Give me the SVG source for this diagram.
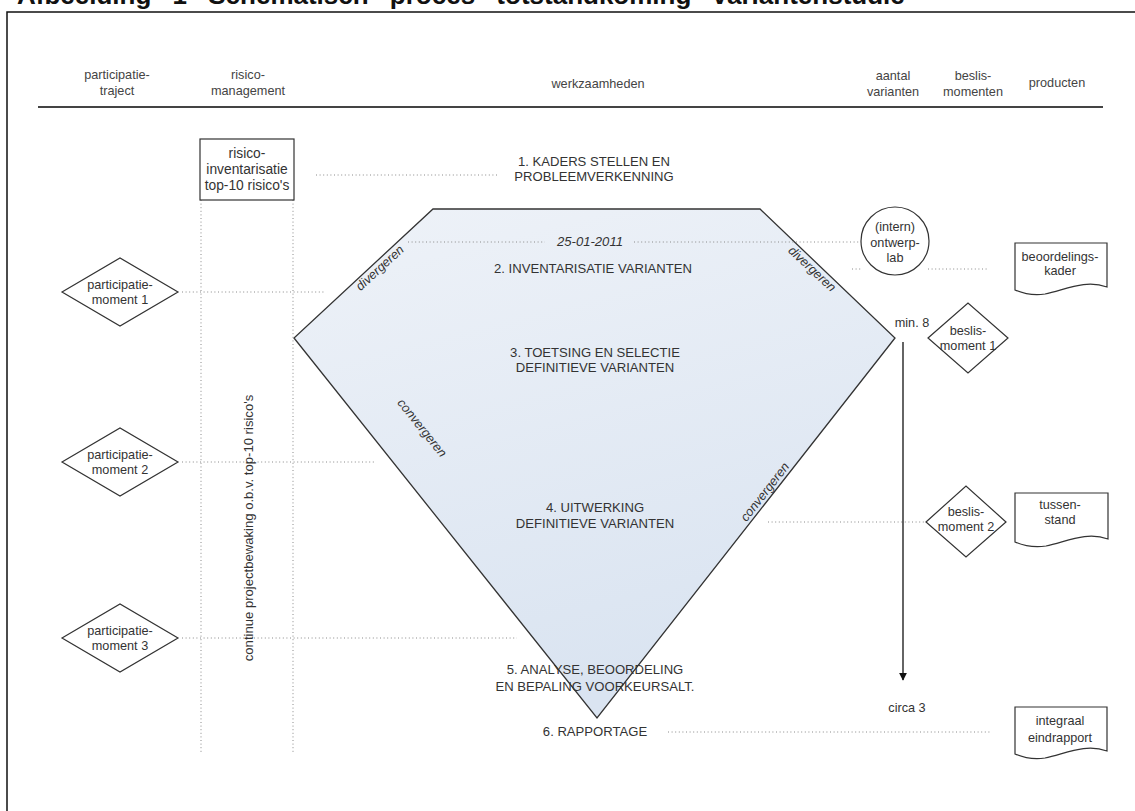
<svg xmlns="http://www.w3.org/2000/svg" width="1135" height="811" viewBox="0 0 1135 811">
<defs>
<style>
.t{font-family:"Liberation Sans",Arial,sans-serif;font-size:12.7px;fill:#333;text-anchor:middle;dominant-baseline:central}
.h{font-family:"Liberation Sans",Arial,sans-serif;font-size:12.7px;fill:#444;text-anchor:middle;dominant-baseline:central}
.w{font-family:"Liberation Sans",Arial,sans-serif;font-size:13.1px;fill:#333;text-anchor:middle;dominant-baseline:central}
.b{font-family:"Liberation Sans",Arial,sans-serif;font-size:13.8px;fill:#333;text-anchor:middle;dominant-baseline:central}
.it{font-style:italic}
.dot{stroke:#8a8a8a;stroke-width:1;stroke-dasharray:1 2.6;fill:none}
.sh{stroke:#333;stroke-width:1.2;fill:#fff}
</style>
<linearGradient id="g" x1="0" y1="0" x2="0.3" y2="1">
<stop offset="0" stop-color="#eef2f8"/>
<stop offset="1" stop-color="#dae4f1"/>
</linearGradient>
<marker id="ah" viewBox="0 0 10 10" refX="9" refY="5" markerWidth="8" markerHeight="8" orient="auto" markerUnits="userSpaceOnUse">
<path d="M0,0 L10,5 L0,10 Z" fill="#111"/>
</marker>
</defs>
<rect width="1135" height="811" fill="#fff"/>
<text x="17" y="4" style="font-family:'Liberation Sans',Arial,sans-serif;font-size:26px;font-weight:bold;fill:#111;word-spacing:14px">Afbeelding 1 Schematisch proces totstandkoming variantenstudie</text>
<path d="M7,811 V12 H1135" fill="none" stroke="#111" stroke-width="1.5"/>

<g id="headers">
<text class="h" x="117" y="75">participatie-</text>
<text class="h" x="117" y="91">traject</text>
<text class="h" x="248" y="75">risico-</text>
<text class="h" x="248" y="91">management</text>
<text class="h" x="598" y="84">werkzaamheden</text>
<text class="h" x="893" y="76">aantal</text>
<text class="h" x="893" y="92">varianten</text>
<text class="h" x="973" y="76">beslis-</text>
<text class="h" x="973" y="92">momenten</text>
<text class="h" x="1057" y="83">producten</text>
<line x1="38" y1="107" x2="1103" y2="107" stroke="#444" stroke-width="2"/>
</g>

<g id="process">
<polygon points="433,209 760,209 895,338 597,718 294,338" fill="url(#g)" stroke="#333" stroke-width="1.3"/>
</g>

<g id="connectors">
<line class="dot" x1="201" y1="200" x2="201" y2="753"/>
<line class="dot" x1="293" y1="200" x2="293" y2="753"/>
<line class="dot" x1="316" y1="175" x2="498" y2="175"/>
<line class="dot" x1="408" y1="242" x2="545" y2="242"/>
<line class="dot" x1="634" y1="242" x2="861" y2="242"/>
<line class="dot" x1="852" y1="269" x2="862" y2="269"/>
<line class="dot" x1="928" y1="269" x2="988" y2="269"/>
<line class="dot" x1="182" y1="292" x2="324" y2="292"/>
<line class="dot" x1="182" y1="462" x2="376" y2="462"/>
<line class="dot" x1="182" y1="638" x2="517" y2="638"/>
<line class="dot" x1="768" y1="522" x2="925" y2="522"/>
<line class="dot" x1="668" y1="732" x2="990" y2="732"/>
<line x1="903" y1="342" x2="903" y2="680" stroke="#111" stroke-width="1.3" marker-end="url(#ah)"/>
</g>

<g id="stage-texts">
<text class="w" x="594" y="161">1. KADERS STELLEN EN</text>
<text class="w" x="594" y="176">PROBLEEMVERKENNING</text>
<text class="w it" x="590" y="241">25-01-2011</text>
<text class="w" x="593" y="268">2. INVENTARISATIE VARIANTEN</text>
<text class="w" x="595" y="352">3. TOETSING EN SELECTIE</text>
<text class="w" x="595" y="367">DEFINITIEVE VARIANTEN</text>
<text class="w" x="595" y="507">4. UITWERKING</text>
<text class="w" x="595" y="523">DEFINITIEVE VARIANTEN</text>
<text class="w" x="595" y="669">5. ANALYSE, BEOORDELING</text>
<text class="w" x="595" y="686">EN BEPALING VOORKEURSALT.</text>
<text class="w" x="595" y="731">6. RAPPORTAGE</text>
<text class="t it" transform="translate(380,268) rotate(-42.5)">divergeren</text>
<text class="t it" transform="translate(812,269) rotate(43.2)">divergeren</text>
<text class="t it" transform="translate(422,428) rotate(51.4)">convergeren</text>
<text class="t it" transform="translate(765,492) rotate(-52)">convergeren</text>
<text class="t" x="912" y="323">min. 8</text>
<text class="t" x="907" y="708">circa 3</text>
</g>

<g id="risico-inventarisatie">
<rect class="sh" x="200" y="139" width="94" height="61" stroke-width="1.3"/>
<text class="b" x="247" y="153">risico-</text>
<text class="b" x="247" y="169">inventarisatie</text>
<text class="b" x="247" y="185">top-10 risico's</text>
</g>

<g id="projectbewaking">
<text class="w" transform="translate(248,528) rotate(-90)">continue projectbewaking o.b.v. top-10 risico's</text>
</g>

<g id="participatiemoment-1">
<polygon class="sh" points="62,292 120,258 178,292 120,326"/>
<text class="t" x="120" y="285">participatie-</text>
<text class="t" x="120" y="300">moment 1</text>
</g>
<g id="participatiemoment-2">
<polygon class="sh" points="62,462 120,428 178,462 120,496"/>
<text class="t" x="120" y="455">participatie-</text>
<text class="t" x="120" y="470">moment 2</text>
</g>
<g id="participatiemoment-3">
<polygon class="sh" points="62,638 120,604 178,638 120,672"/>
<text class="t" x="120" y="631">participatie-</text>
<text class="t" x="120" y="646">moment 3</text>
</g>

<g id="ontwerplab">
<circle cx="895" cy="241" r="34" fill="none" stroke="#333" stroke-width="1.2"/>
<text class="t" x="895" y="227">(intern)</text>
<text class="t" x="895" y="243">ontwerp-</text>
<text class="t" x="895" y="258">lab</text>
</g>

<g id="beslismoment-1">
<polygon class="sh" points="928,338 968,303 1008,338 968,373"/>
<text class="t" x="968" y="331">beslis-</text>
<text class="t" x="968" y="346">moment 1</text>
</g>
<g id="beslismoment-2">
<polygon class="sh" points="926,522 966,486 1006,522 966,557"/>
<text class="t" x="966" y="512">beslis-</text>
<text class="t" x="966" y="527">moment 2</text>
</g>

<g id="beoordelingskader">
<path class="sh" d="M1015,243 H1107 V287 C1085,279 1065,290 1045,294 C1032,296 1022,293 1015,290 Z"/>
<text class="t" x="1060" y="257">beoordelings-</text>
<text class="t" x="1060" y="271">kader</text>
</g>
<g id="tussenstand">
<path class="sh" d="M1015,493 H1108 V539 C1086,531 1066,542 1046,546 C1033,548 1022,545 1015,542 Z"/>
<text class="t" x="1060" y="505">tussen-</text>
<text class="t" x="1060" y="520">stand</text>
</g>
<g id="eindrapport">
<path class="sh" d="M1015,707 H1107 V751 C1085,743 1065,754 1045,758 C1032,760 1022,757 1015,754 Z"/>
<text class="t" x="1060" y="721">integraal</text>
<text class="t" x="1060" y="738">eindrapport</text>
</g>
</svg>
